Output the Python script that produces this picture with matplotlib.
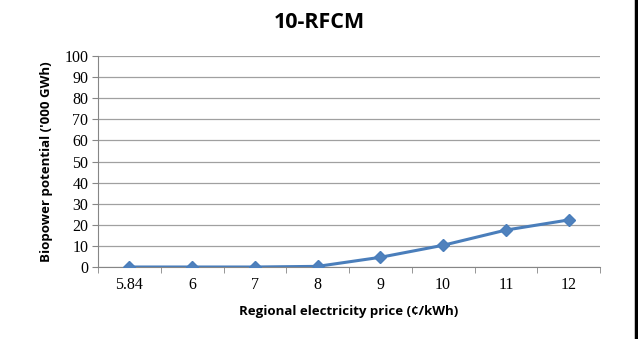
import matplotlib.pyplot as plt
from matplotlib.lines import Line2D

prices = ["5.84", "6", "7", "8", "9", "10", "11", "12"]
potential = [0.0, 0.0, 0.0, 0.3, 4.6, 10.3, 17.5, 22.3]
y_ticks = list(range(0, 101, 10))

fig = plt.figure(figsize=(6.38, 3.39), dpi=100)
ax = fig.add_axes([98 / 638, 1 - 267 / 339, 502 / 638, 211 / 339])

xs = list(range(len(prices)))
ax.plot(xs, potential, color="#4a7ebb", linewidth=2.2, marker="D", markersize=6.5,
        markeredgecolor="#4a7ebb", markerfacecolor="#4f81bd", zorder=3)

ax.set_xlim(-0.5, len(prices) - 0.5)
ax.set_ylim(0, 100)
ax.set_yticks(y_ticks)
ax.set_yticklabels([str(v) for v in y_ticks], family="Liberation Serif", fontsize=11.5)
ax.set_xticks(xs)
ax.set_xticklabels(prices, family="Liberation Serif", fontsize=11.5)
ax.tick_params(axis="x", length=0, pad=7)
ax.set_xticks([x - 0.5 for x in range(len(prices) + 1)], minor=True)
ax.tick_params(axis="x", which="minor", length=4, color="#868686", direction="out")
ax.tick_params(axis="y", length=4, color="#868686", direction="out", pad=3)

ax.grid(axis="y", color="#a0a0a0", linewidth=0.9)
ax.set_axisbelow(True)
for side in ["top", "right"]:
    ax.spines[side].set_visible(False)
ax.spines["left"].set_color("#868686")
ax.spines["bottom"].set_color("#868686")

ax.set_xlabel("Regional electricity price (\u00a2/kWh)", family="Open Sans",
              fontweight="bold", fontsize=9.5, labelpad=9)
ax.set_ylabel("Biopower potential ('000 GWh)", family="Open Sans",
              fontweight="bold", fontsize=9.5, labelpad=8)
fig.text(0.5, 1 - 22 / 339, "10-RFCM", ha="center", va="center", family="Open Sans",
         fontweight="bold", fontsize=15.5)

fig.add_artist(Line2D([0.9975, 0.9975], [0, 1], transform=fig.transFigure,
                      color="black", linewidth=2.5))

fig.savefig("out.png", dpi=100)
